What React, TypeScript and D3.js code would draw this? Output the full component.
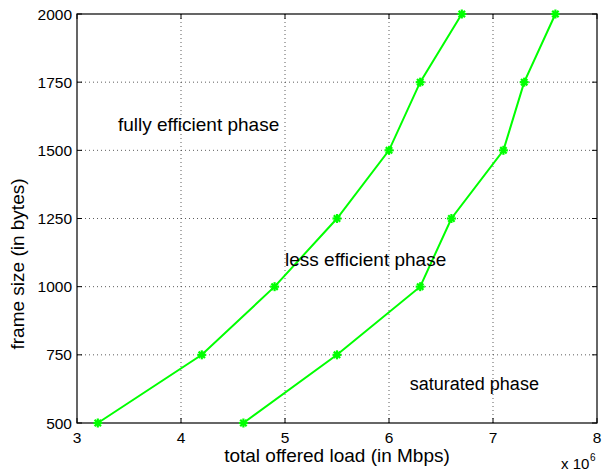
import React from "react";
import * as d3 from "d3";

const sizes = [500, 750, 1000, 1250, 1500, 1750, 2000];
const loadEfficient = [3.2, 4.2, 4.9, 5.5, 6.0, 6.3, 6.7];
const loadSaturated = [4.6, 5.5, 6.3, 6.6, 7.1, 7.3, 7.6];
const xTicks = [3, 4, 5, 6, 7, 8];
const yTicks = [500, 750, 1000, 1250, 1500, 1750, 2000];
const annotations = [
  { text: "fully efficient phase", x: 3.394, y: 1571 },
  { text: "less efficient phase", x: 5.0, y: 1076 },
  { text: "saturated phase", x: 6.2, y: 620 },
];

const W = 606, H = 472;
const L = 77, R = 597, T = 14, B = 423;
const font = "'Liberation Sans', Arial, Helvetica, sans-serif";

function Star({ x, y }: { x: number; y: number }) {
  const r = 4.5;
  const lines = [0, 45, 90, 135].map((a) => {
    const rad = (a * Math.PI) / 180;
    return (
      <line key={a} x1={x - r * Math.cos(rad)} y1={y - r * Math.sin(rad)} x2={x + r * Math.cos(rad)} y2={y + r * Math.sin(rad)}
        stroke="#00ff00" strokeWidth={2.2} />
    );
  });
  return <g>{lines}<circle cx={x} cy={y} r={2.5} fill="#00ff00" /></g>;
}

export default function App() {
  const x = d3.scaleLinear().domain([3, 8]).range([L, R]);
  const y = d3.scaleLinear().domain([500, 2000]).range([B, T]);
  const line = d3.line<[number, number]>().x((d) => x(d[0])).y((d) => y(d[1]));
  const series = [loadEfficient, loadSaturated].map((s) => s.map((v, i) => [v, sizes[i]] as [number, number]));
  return (
    <svg width={W} height={H} style={{ position: "absolute", left: 0, top: 0 }}>
      <rect width={W} height={H} fill="#fff" />
      {xTicks.slice(1, -1).map((t) => (
        <line key={"gx" + t} x1={x(t)} x2={x(t)} y1={T} y2={B} stroke="#333" strokeWidth={0.8} strokeDasharray="1 3" />
      ))}
      {yTicks.slice(1, -1).map((t) => (
        <line key={"gy" + t} x1={L} x2={R} y1={y(t)} y2={y(t)} stroke="#333" strokeWidth={0.8} strokeDasharray="1 3" />
      ))}
      {xTicks.map((t) => (
        <g key={"tx" + t}>
          <line x1={x(t)} x2={x(t)} y1={B} y2={B - 5} stroke="#000" />
          <line x1={x(t)} x2={x(t)} y1={T} y2={T + 5} stroke="#000" />
          <text x={x(t)} y={B + 20} textAnchor="middle" fontFamily={font} fontSize={15.5}>{t}</text>
        </g>
      ))}
      {yTicks.map((t) => (
        <g key={"ty" + t}>
          <line x1={L} x2={L + 5} y1={y(t)} y2={y(t)} stroke="#000" />
          <line x1={R} x2={R - 5} y1={y(t)} y2={y(t)} stroke="#000" />
          <text x={L - 5} y={y(t) + 5.5} textAnchor="end" fontFamily={font} fontSize={15.5}>{t}</text>
        </g>
      ))}
      <rect x={L} y={T} width={R - L} height={B - T} fill="none" stroke="#000" strokeWidth={1.2} />
      {series.map((s, i) => (
        <g key={"s" + i}>
          <path d={line(s) || ""} fill="none" stroke="#00ff00" strokeWidth={2} />
          {s.map((d, j) => <Star key={j} x={x(d[0])} y={y(d[1])} />)}
        </g>
      ))}
      {annotations.map((a) => (
        <text key={a.text} x={x(a.x)} y={y(a.y)} fontFamily={font} fontSize={a.text === "saturated phase" ? 18 : 19}>{a.text}</text>
      ))}
      <text x={(L + R) / 2} y={462} textAnchor="middle" fontFamily={font} fontSize={19}>total offered load (in Mbps)</text>
      <text transform={`translate(24,264) rotate(-90)`} textAnchor="middle" fontFamily={font} fontSize={19}>frame size (in bytes)</text>
      <text x={561} y={469} fontFamily={font} fontSize={15}>x 10</text>
      <text x={590} y={461} fontFamily={font} fontSize={10}>6</text>
    </svg>
  );
}
